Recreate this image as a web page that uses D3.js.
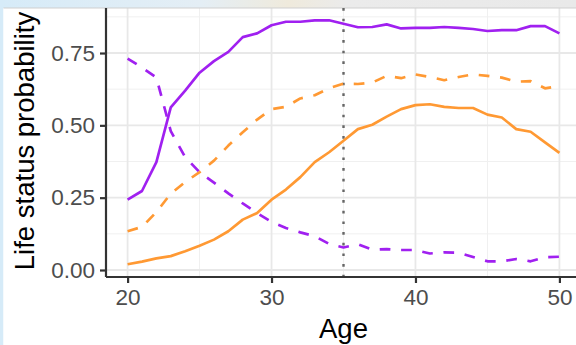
<!DOCTYPE html>
<html><head><meta charset="utf-8">
<script src="https://cdn.jsdelivr.net/npm/d3@7"></script>
<style>body{margin:0;background:#fff;}svg{display:block;}</style>
</head><body>
<script>
const ages = d3.range(20, 51);
const purpleSolid = [0.243,0.273,0.373,0.562,0.62,0.682,0.722,0.754,0.805,0.818,0.846,0.858,0.858,0.863,0.863,0.851,0.839,0.840,0.849,0.835,0.837,0.837,0.840,0.837,0.833,0.826,0.829,0.829,0.843,0.843,0.818];
const purpleDashed = [0.731,0.70,0.665,0.48,0.39,0.338,0.302,0.265,0.23,0.197,0.166,0.145,0.13,0.117,0.09,0.078,0.089,0.07,0.072,0.069,0.069,0.057,0.061,0.06,0.045,0.03,0.03,0.038,0.03,0.044,0.046];
const orangeSolid = [0.02,0.029,0.04,0.048,0.065,0.084,0.105,0.134,0.174,0.197,0.243,0.278,0.321,0.373,0.407,0.447,0.487,0.502,0.53,0.556,0.57,0.573,0.564,0.56,0.56,0.537,0.527,0.487,0.478,0.441,0.405];
const orangeDashed = [0.134,0.149,0.2,0.264,0.304,0.338,0.378,0.43,0.476,0.52,0.556,0.564,0.593,0.604,0.628,0.644,0.643,0.648,0.671,0.663,0.676,0.667,0.656,0.667,0.676,0.671,0.665,0.651,0.653,0.628,0.636];
const xTicks = [20,30,40,50];
const xMinor = [25,35,45];
const yTicks = [0,0.25,0.5,0.75];
const yMinor = [0.125,0.375,0.625,0.875];
const vline = 35;

const W=576,H=345;
const svg=d3.select("body").append("svg").attr("width",W).attr("height",H);
// screenshot background
const defs=svg.append("defs");
const g1=defs.append("linearGradient").attr("id","topband");
g1.append("stop").attr("offset","0").attr("stop-color","#d6ebf8");
g1.append("stop").attr("offset","0.35").attr("stop-color","#e4eef5");
g1.append("stop").attr("offset","0.5").attr("stop-color","#efeadc");
g1.append("stop").attr("offset","0.6").attr("stop-color","#ebebeb");
g1.append("stop").attr("offset","1").attr("stop-color","#e9e9e9");
svg.append("rect").attr("x",0).attr("y",0).attr("width",W).attr("height",8).attr("fill","url(#topband)");
svg.append("rect").attr("x",0).attr("y",0).attr("width",3.5).attr("height",H).attr("fill","#d6ebf8");
svg.append("rect").attr("x",3.5).attr("y",8).attr("width",W).attr("height",H).attr("fill","#fff");

const x=d3.scaleLinear().domain([18.5,51.5]).range([106,581]);
const y=d3.scaleLinear().domain([-0.0242,0.9056]).range([277,8]);

const grid=svg.append("g");
grid.selectAll(".xm").data(xMinor).join("line").attr("x1",d=>x(d)).attr("x2",d=>x(d)).attr("y1",8).attr("y2",277).attr("stroke","#f0f0f0").attr("stroke-width",1);
grid.selectAll(".ym").data(yMinor).join("line").attr("y1",d=>y(d)).attr("y2",d=>y(d)).attr("x1",106).attr("x2",W).attr("stroke","#f0f0f0").attr("stroke-width",1);
grid.selectAll(".xM").data(xTicks).join("line").attr("x1",d=>x(d)).attr("x2",d=>x(d)).attr("y1",8).attr("y2",277).attr("stroke","#e8e8e8").attr("stroke-width",1.8);
grid.selectAll(".yM").data(yTicks).join("line").attr("y1",d=>y(d)).attr("y2",d=>y(d)).attr("x1",106).attr("x2",W).attr("stroke","#e8e8e8").attr("stroke-width",1.8);
svg.append("line").attr("x1",3.5).attr("x2",W).attr("y1",8).attr("y2",8).attr("stroke","#cfcfcf").attr("stroke-width",1);

// vertical dotted line
svg.append("line").attr("x1",x(vline)).attr("x2",x(vline)).attr("y1",8).attr("y2",277)
  .attr("stroke","#666").attr("stroke-width",2.4).attr("stroke-dasharray","2.67,8");

const line=d3.line().x((d,i)=>x(ages[i])).y(d=>y(d));
const series=[
  {v:orangeSolid,c:"#ff9933",dash:null},
  {v:orangeDashed,c:"#ff9933",dash:"10.7,10.7"},
  {v:purpleDashed,c:"#a020f0",dash:"10.7,10.7"},
  {v:purpleSolid,c:"#a020f0",dash:null}
];
series.forEach(s=>{
  svg.append("path").attr("d",line(s.v)).attr("fill","none").attr("stroke",s.c)
   .attr("stroke-width",2.67).attr("stroke-linejoin","round").attr("stroke-dasharray",s.dash);
});

// axes
const font="'Liberation Sans', Arial, Helvetica, sans-serif";
const xAxis=svg.append("g").attr("transform","translate(0,277)")
  .call(d3.axisBottom(x).tickValues(xTicks).tickSize(6).tickPadding(6).tickFormat(d3.format("d")));
const yAxis=svg.append("g").attr("transform","translate(106,0)")
  .call(d3.axisLeft(y).tickValues(yTicks).tickSize(6).tickPadding(5).tickFormat(d3.format(".2f")));
[xAxis,yAxis].forEach(a=>{
  a.select(".domain").attr("stroke","#333").attr("stroke-width",2.2);
  a.selectAll(".tick line").attr("stroke","#333").attr("stroke-width",2.2);
  a.selectAll(".tick text").attr("fill","#4d4d4d").style("font-family",font).style("font-size","22.5px");
});
xAxis.select(".domain").attr("d","M106,0H"+W);
yAxis.select(".domain").attr("d","M0,8V277");
xAxis.selectAll(".tick text").attr("dy","0.71em");

svg.append("text").attr("x",343.5).attr("y",338).attr("text-anchor","middle")
  .style("font-family",font).style("font-size","27.5px").attr("fill","#000").text("Age");
svg.append("text").attr("transform","translate(34,141) rotate(-90)").attr("text-anchor","middle")
  .style("font-family",font).style("font-size","27.5px").attr("fill","#000").text("Life status probability");
</script>
</body></html>
